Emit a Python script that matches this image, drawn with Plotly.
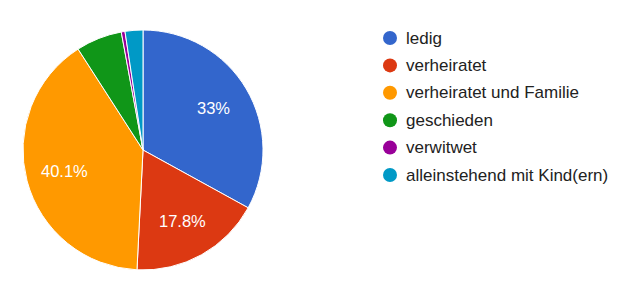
import math
import plotly.graph_objects as go

categories = ["ledig", "verheiratet", "verheiratet und Familie", "geschieden",
              "verwitwet", "alleinstehend mit Kind(ern)"]
values = [33.0, 17.8, 40.1, 6.2, 0.5, 2.4]
colors = ["#3366cc", "#dc3912", "#ff9900", "#109618", "#990099", "#0099c6"]
labels_shown = ["33%", "17.8%", "40.1%", "", "", ""]

W, H = 624, 300
cx, cy, r = 143, 150, 120
FONT = "Liberation Sans, Arial"

fig = go.Figure()
fig.add_trace(go.Pie(
    labels=categories, values=values, sort=False, direction="clockwise",
    rotation=0,
    marker=dict(colors=colors, line=dict(color="white", width=1)),
    textinfo="none",
    domain=dict(x=[(cx - r) / W, (cx + r) / W], y=[(H - cy - r) / H, (H - cy + r) / H]),
    showlegend=False, hoverinfo="label+percent",
))

shapes, annotations = [], []

# slice labels placed at ~0.68 R along each slice's mid-angle
total = sum(values)
cum = 0.0
for v, lab in zip(values, labels_shown):
    mid = (cum + v / 2) / total * 2 * math.pi
    cum += v
    if not lab:
        continue
    px = cx + 0.68 * r * math.sin(mid)
    py = cy - 0.68 * r * math.cos(mid)
    annotations.append(dict(text=lab, xref="paper", yref="paper",
                            x=px / W, y=1 - py / H, xanchor="center", yanchor="middle",
                            showarrow=False,
                            font=dict(family=FONT, size=16.5, color="white")))

# legend drawn as circles + text
lx, ly0, dy, dr = 390, 38, 27.4, 7
for i, (cat, col) in enumerate(zip(categories, colors)):
    y = ly0 + i * dy
    shapes.append(dict(type="circle", xref="paper", yref="paper",
                       x0=(lx - dr) / W, x1=(lx + dr) / W,
                       y0=1 - (y + dr) / H, y1=1 - (y - dr) / H,
                       fillcolor=col, line=dict(width=0)))
    annotations.append(dict(text=cat, xref="paper", yref="paper",
                            x=404 / W, y=1 - y / H, xanchor="left", yanchor="middle",
                            showarrow=False,
                            font=dict(family=FONT, size=17, color="#222222")))

fig.update_layout(width=W, height=H, margin=dict(l=0, r=0, t=0, b=0),
                  paper_bgcolor="white", plot_bgcolor="white",
                  shapes=shapes, annotations=annotations)
fig.write_html("out.html")
